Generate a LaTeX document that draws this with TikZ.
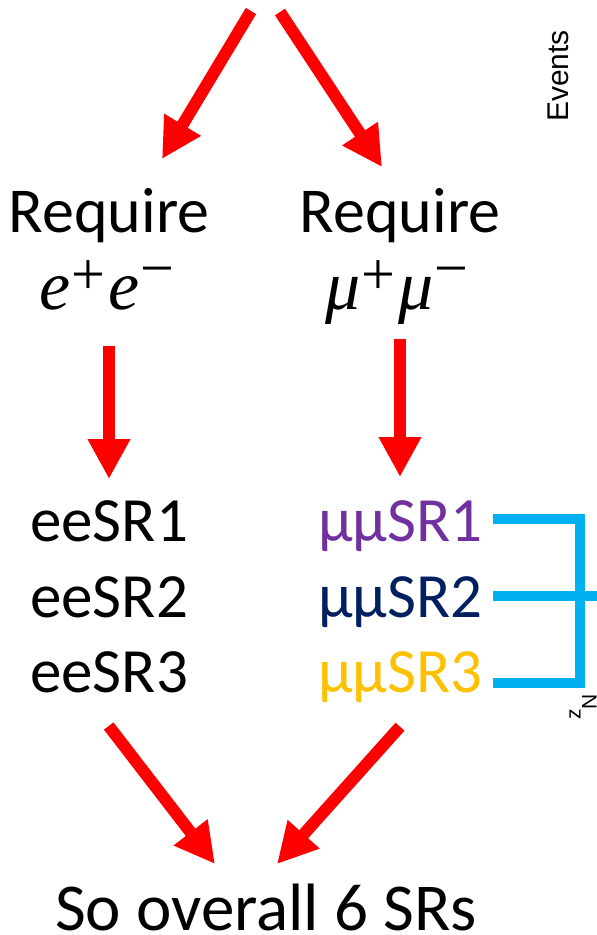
\documentclass[tikz,border=0pt]{standalone}
\usepackage{fontspec}
\setmainfont{Carlito}
\newfontfamily\plotfont{Liberation Sans}
\newfontfamily\symfont{Liberation Serif}
\usetikzlibrary{arrows.meta}
\definecolor{arrowred}{HTML}{FF0000}
\definecolor{srpurple}{HTML}{7030A0}
\definecolor{srnavy}{HTML}{002060}
\definecolor{srgold}{HTML}{FFC000}
\definecolor{brackblue}{HTML}{00B0F0}
% italic particle symbol and raised charge signs
\newcommand{\psym}[1]{{\fontsize{70}{72}\selectfont\symfont\itshape #1}}
\newcommand{\chgplus}{\kern1pt\smash{\raisebox{15pt}{\fontsize{60}{62}\selectfont\symfont +}}\kern3pt}
\newcommand{\chgminus}{\kern1pt\smash{\raisebox{21pt}{\fontsize{60}{62}\selectfont\symfont −}}}
\begin{document}
\begin{tikzpicture}[x=1pt,y=-1pt,
  bigarrow/.style={draw=arrowred, fill=arrowred, line width=12pt, line cap=butt,
    -{Triangle[width=40pt,length=40pt]}},
  bigtext/.style={inner sep=0pt, font=\fontsize{64}{76}\selectfont},
  srtext/.style={inner sep=0pt, anchor=base west, font=\fontsize{63}{76}\selectfont},
  bracket/.style={draw=brackblue, line width=10pt, line cap=butt, line join=miter},
  axislabel/.style={inner sep=0pt, anchor=base west, rotate=90}]
\useasboundingbox (0,0) rectangle (597,935);

% selection steps
\node[bigtext, anchor=base] (reqE) at (109,232) {Require};
\node[bigtext, anchor=base] (reqM) at (400,232) {Require};
\node[inner sep=0pt, anchor=base] (ee) at (107,309) {\psym{e}\chgplus\psym{e}\chgminus};
\node[inner sep=0pt, anchor=base] (mm) at (397,309) {\psym{μ}\chgplus\psym{μ}\chgminus};

% signal regions
\node[srtext] (e1) at (30,541) {eeSR1};
\node[srtext] (e2) at (30,617) {eeSR2};
\node[srtext] (e3) at (30,692) {eeSR3};
\node[srtext, text=srpurple] (m1) at (318,541) {μμSR1};
\node[srtext, text=srnavy] (m2) at (318,617) {μμSR2};
\node[srtext, text=srgold] (m3) at (318,692) {μμSR3};

\node[bigtext, anchor=base, font=\fontsize{67}{80}\selectfont] (total) at (266,930) {So overall 6 SRs};

% leftover plot axis labels
\node[axislabel, font=\plotfont\fontsize{30}{32}\selectfont] (events) at (568,122) {Events};
\node[axislabel, font=\plotfont\fontsize{21}{24}\selectfont] (zn) at (580.7,720) {z\raisebox{-16pt}{N}};

% arrow end points
\coordinate (topL) at (251,11);
\coordinate (topR) at (280,12);
\coordinate (inE) at (162,159);
\coordinate (inM) at (382,167);
\coordinate (outE) at (109,346);
\coordinate (toE) at (109,479);
\coordinate (outM) at (400,339);
\coordinate (toM) at (400,477);
\coordinate (fromE) at (108.7,726);
\coordinate (fromM) at (400,726.7);
\coordinate (sumL) at (215,864);
\coordinate (sumR) at (277,864);

\draw[bigarrow] (topL) -- (inE);
\draw[bigarrow] (topR) -- (inM);
\draw[bigarrow] (outE) -- (toE);
\draw[bigarrow] (outM) -- (toM);
\draw[bigarrow] (fromE) -- (sumL);
\draw[bigarrow] (fromM) -- (sumR);

% bracket joining the muon regions
\coordinate (b1) at (493,519);
\coordinate (b2) at (493,596);
\coordinate (b3) at (493,683);
\coordinate (bx) at (580,596);
\coordinate (bend) at (597,596);
\draw[bracket] (b1) -| (bx) |- (b3);
\draw[bracket] (b2) -- (bend);
\end{tikzpicture}
\end{document}
